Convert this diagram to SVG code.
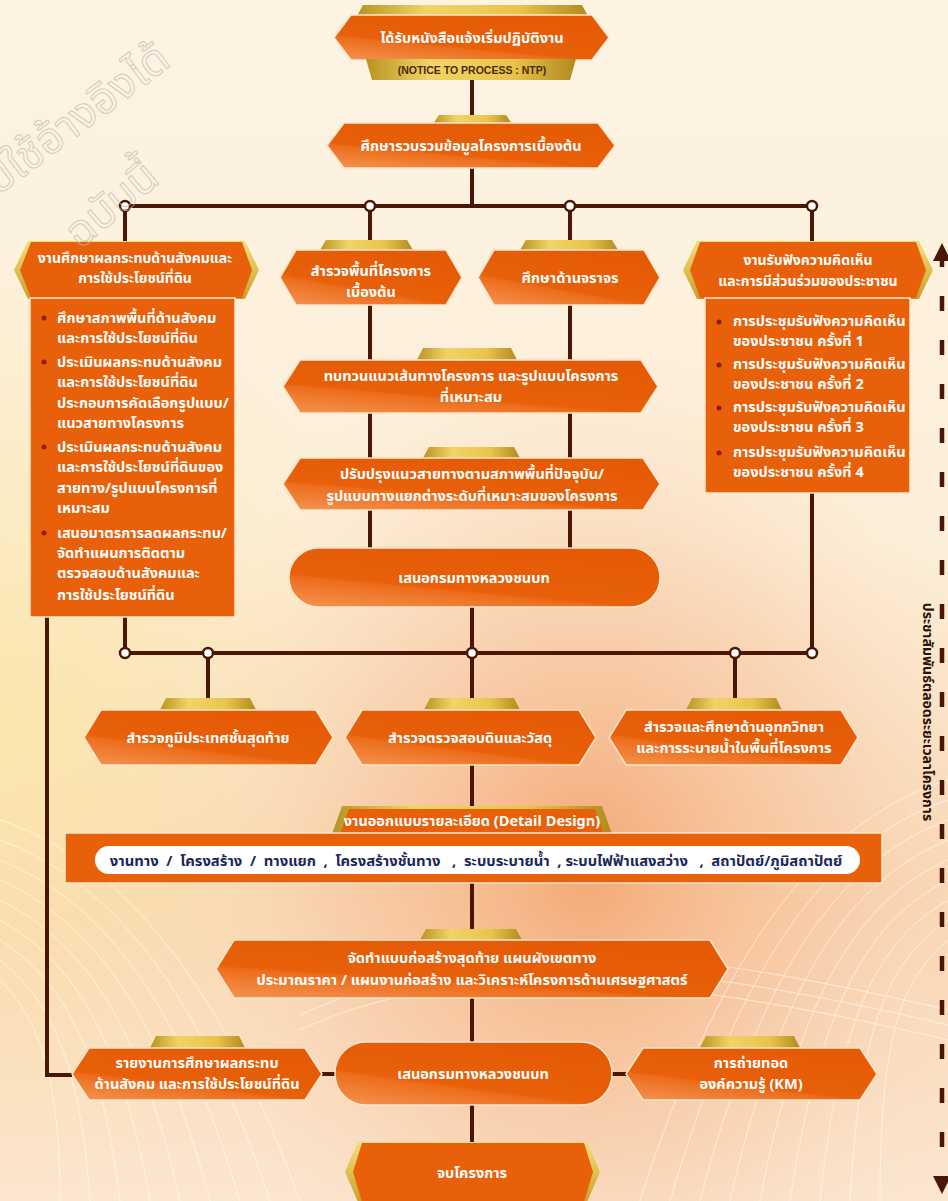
<svg xmlns="http://www.w3.org/2000/svg" width="948" height="1201" viewBox="0 0 948 1201">
<defs>
<linearGradient id="bg" x1="0" y1="0" x2="0" y2="1">
<stop offset="0" stop-color="#fdf3e3"/>
<stop offset="0.45" stop-color="#fcefd9"/>
<stop offset="0.75" stop-color="#f9d6b4"/>
<stop offset="1" stop-color="#fbe6d0"/>
</linearGradient>
<radialGradient id="glow" cx="0.62" cy="0.72" r="0.45">
<stop offset="0" stop-color="#f4a06a" stop-opacity="0.85"/>
<stop offset="0.6" stop-color="#f7c29a" stop-opacity="0.4"/>
<stop offset="1" stop-color="#fbe3c8" stop-opacity="0"/>
</radialGradient>
<radialGradient id="glowL" cx="0" cy="0.6" r="0.4">
<stop offset="0" stop-color="#fbe7a8" stop-opacity="0.8"/>
<stop offset="1" stop-color="#fbe7a8" stop-opacity="0"/>
</radialGradient>
<linearGradient id="og" x1="0" y1="1" x2="0.6" y2="0">
<stop offset="0" stop-color="#f39552"/>
<stop offset="0.38" stop-color="#ed6d1c"/>
<stop offset="0.42" stop-color="#e8600a"/>
<stop offset="1" stop-color="#e55a05"/>
</linearGradient>
<linearGradient id="gg" x1="0" y1="0" x2="1" y2="0">
<stop offset="0" stop-color="#b89322"/>
<stop offset="0.3" stop-color="#f1d466"/>
<stop offset="0.7" stop-color="#e9c44a"/>
<stop offset="1" stop-color="#b08a1e"/>
</linearGradient>
<linearGradient id="gv" x1="0" y1="0" x2="0" y2="1">
<stop offset="0" stop-color="#f4de7a"/>
<stop offset="1" stop-color="#c9a22b"/>
</linearGradient>
<marker id="ah" viewBox="0 0 10 10" refX="5" refY="5" markerWidth="4" markerHeight="4" orient="auto-start-reverse">
<path d="M0,0 L10,5 L0,10 Z" fill="#4a1608"/>
</marker>
</defs>
<style>
.hex{fill:url(#og);stroke:#fde6cc;stroke-width:1.5}
.box{fill:#e8600a;stroke:#fde6cc;stroke-width:1.5}
.gold{fill:url(#gg)}
.t{font-family:"Noto Sans Thai","Noto Sans","DejaVu Sans",sans-serif;font-weight:bold;fill:#fff;font-size:14.5px;text-anchor:middle}
.h{font-size:14px}
.b{font-family:"Noto Sans Thai","Noto Sans","DejaVu Sans",sans-serif;font-weight:bold;fill:#fff;font-size:14.5px}
.ln{stroke:#4a1608;stroke-width:4;fill:none}
.dot{fill:#fff;stroke:#4a1608;stroke-width:2.5}
.bul{fill:#8c1c0c}
.wm{font-family:"Noto Sans Thai","Noto Sans",sans-serif;font-size:44px;fill:none;stroke:#c4bab0;stroke-width:1;opacity:0.7}
.wl{stroke:#fff;stroke-width:1;fill:none;opacity:0.55}
</style>

<rect width="948" height="1201" fill="url(#bg)"/>
<rect width="948" height="1201" fill="url(#glow)"/>
<rect width="948" height="1201" fill="url(#glowL)"/>
<g id="waves">
<path class="wl" d="M0,820 C120,860 220,980 300,1201"/>
<path class="wl" d="M0,840 C110,880 200,990 270,1201"/>
<path class="wl" d="M0,860 C100,900 180,1000 240,1201"/>
<path class="wl" d="M0,880 C90,920 160,1010 210,1201"/>
<path class="wl" d="M0,900 C80,940 140,1020 180,1201"/>
<path class="wl" d="M0,920 C70,960 120,1030 150,1201"/>
<path class="wl" d="M0,940 C60,980 100,1040 120,1201"/>
<path class="wl" d="M0,960 C50,1000 80,1060 90,1201"/>
<path class="wl" d="M0,980 C40,1020 60,1080 60,1201"/>
<path class="wl" d="M948,780 C820,820 720,950 640,1201"/>
<path class="wl" d="M948,800 C830,840 740,960 670,1201"/>
<path class="wl" d="M948,820 C840,860 760,970 700,1201"/>
<path class="wl" d="M948,840 C850,880 780,980 730,1201"/>
<path class="wl" d="M948,860 C860,900 800,990 760,1201"/>
<path class="wl" d="M948,880 C870,920 820,1000 790,1201"/>
<path class="wl" d="M948,900 C880,940 840,1010 820,1201"/>
<path class="wl" d="M948,920 C890,960 860,1020 850,1201"/>
<path class="wl" d="M948,940 C900,980 880,1040 880,1201"/>
<path class="wl" d="M300,1000 C450,930 650,940 948,1010"/>
<path class="wl" d="M300,1015 C450,945 650,955 948,1025"/>
<path class="wl" d="M300,1030 C450,960 650,970 948,1040"/>
</g>

<g id="connectors">
<path class="ln" d="M472,80 V123"/>
<path class="ln" d="M472,168 V206"/>
<path class="ln" d="M125,206 H812"/>
<path class="ln" d="M125,206 V242"/>
<path class="ln" d="M370,206 V250 M370,305 V360 M370,413 V458 M370,510 V548"/>
<path class="ln" d="M570,206 V250 M570,305 V360 M570,413 V458 M570,510 V548"/>
<path class="ln" d="M812,206 V242 M812,493 V653"/>
<path class="ln" d="M125,617 V653"/>
<path class="ln" d="M472,607 V653"/>
<path class="ln" d="M125,653 H812"/>
<path class="ln" d="M208,653 V710 M472,653 V710 M735,653 V710"/>
<path class="ln" d="M472,765 V807 M472,883 V940 M472,998 V1042 M472,1105 V1143"/>
<path class="ln" d="M47,617 V1075 H72"/>
<path class="ln" d="M322,1074 H336 M611,1074 H627"/>
<circle class="dot" cx="125" cy="206" r="5"/>
<circle class="dot" cx="370" cy="206" r="5"/>
<circle class="dot" cx="570" cy="206" r="5"/>
<circle class="dot" cx="812" cy="206" r="5"/>
<circle class="dot" cx="125" cy="653" r="5"/>
<circle class="dot" cx="208" cy="653" r="5"/>
<circle class="dot" cx="472" cy="653" r="5"/>
<circle class="dot" cx="735" cy="653" r="5"/>
<circle class="dot" cx="812" cy="653" r="5"/>
<path d="M942,252 V1185" stroke="#4a1608" stroke-width="4.5" stroke-dasharray="15 29" marker-start="url(#ah)" marker-end="url(#ah)"/>
</g>

<g id="n-ntp">
<path class="gold" d="M357,16 L363,5 L582,5 L588,16 Z"/>
<path class="hex" d="M334,37.5 L351,15 L592,15 L609,37.5 L592,60 L351,60 Z"/>
<text class="t" x="472" y="43" font-size="16">ได้รับหนังสือแจ้งเริ่มปฏิบัติงาน</text>
<path d="M366,59 L576,59 L570,80 L372,80 Z" fill="url(#gg)"/>
<text x="472" y="74" text-anchor="middle" font-family="Liberation Sans, Arial, sans-serif" font-weight="bold" font-size="10.5" fill="#4a2a08">(NOTICE TO PROCESS : NTP)</text>
</g>

<g id="n-collect">
<path class="gold" d="M433,124 L439,115 L506,115 L512,124 Z"/>
<path class="hex" d="M327,145.5 L344,123 L598,123 L615,145.5 L598,168 L344,168 Z"/>
<text class="t" x="471" y="151" font-size="16">ศึกษารวบรวมข้อมูลโครงการเบื้องต้น</text>
</g>

<g id="n-social">
<path d="M14,270 L28,241 L245,241 L259,270 L245,299 L28,299 Z" fill="url(#gv)"/>
<path d="M20,270 L31,242 L242,242 L252,270 L242,298 L31,298 Z" fill="#e8600a"/>
<text class="t h" x="135" y="263">งานศึกษาผลกระทบด้านสังคมและ</text>
<text class="t h" x="135" y="283">การใช้ประโยชน์ที่ดิน</text>
<rect class="box" x="30" y="298" width="205" height="319"/>
<circle class="bul" cx="44" cy="318" r="2.5"/>
<circle class="bul" cx="44" cy="362" r="2.5"/>
<circle class="bul" cx="44" cy="447" r="2.5"/>
<circle class="bul" cx="44" cy="533" r="2.5"/>
<text class="b" x="57" y="323">ศึกษาสภาพพื้นที่ด้านสังคม</text>
<text class="b" x="57" y="343">และการใช้ประโยชน์ที่ดิน</text>
<text class="b" x="57" y="367">ประเมินผลกระทบด้านสังคม</text>
<text class="b" x="57" y="387">และการใช้ประโยชน์ที่ดิน</text>
<text class="b" x="57" y="408">ประกอบการคัดเลือกรูปแบบ/</text>
<text class="b" x="57" y="428">แนวสายทางโครงการ</text>
<text class="b" x="57" y="452">ประเมินผลกระทบด้านสังคม</text>
<text class="b" x="57" y="472">และการใช้ประโยชน์ที่ดินของ</text>
<text class="b" x="57" y="493">สายทาง/รูปแบบโครงการที่</text>
<text class="b" x="57" y="513">เหมาะสม</text>
<text class="b" x="57" y="538">เสนอมาตรการลดผลกระทบ/</text>
<text class="b" x="57" y="558">จัดทำแผนการติดตาม</text>
<text class="b" x="57" y="578">ตรวจสอบด้านสังคมและ</text>
<text class="b" x="57" y="600">การใช้ประโยชน์ที่ดิน</text>
</g>

<g id="n-survey">
<path class="gold" d="M320,250 L326,240 L407,240 L413,250 Z"/>
<path class="hex" d="M280,277.5 L296,250 L446,250 L462,277.5 L446,305 L296,305 Z"/>
<text class="t" x="371" y="276">สำรวจพื้นที่โครงการ</text>
<text class="t" x="371" y="297">เบื้องต้น</text>
</g>

<g id="n-traffic">
<path class="gold" d="M520,250 L526,240 L612,240 L618,250 Z"/>
<path class="hex" d="M478,277.5 L494,250 L644,250 L660,277.5 L644,305 L494,305 Z"/>
<text class="t" x="570" y="283">ศึกษาด้านจราจร</text>
</g>

<g id="n-review">
<path class="gold" d="M417,360 L423,348 L511,348 L517,360 Z"/>
<path class="hex" d="M283,386.5 L300,360 L641,360 L658,386.5 L641,413 L300,413 Z"/>
<text class="t" x="471" y="381">ทบทวนแนวเส้นทางโครงการ และรูปแบบโครงการ</text>
<text class="t" x="471" y="402">ที่เหมาะสม</text>
</g>

<g id="n-improve">
<path class="gold" d="M423,458 L429,447 L514,447 L520,458 Z"/>
<path class="hex" d="M283,484 L300,458 L643,458 L660,484 L643,510 L300,510 Z"/>
<text class="t" x="472" y="479">ปรับปรุงแนวสายทางตามสภาพพื้นที่ปัจจุบัน/</text>
<text class="t" x="472" y="501">รูปแบบทางแยกต่างระดับที่เหมาะสมของโครงการ</text>
</g>

<g id="n-propose1">
<rect class="hex" x="289" y="548" width="371" height="59" rx="29.5" stroke-width="2.5" stroke="#fff"/>
<text class="t" x="474" y="583">เสนอกรมทางหลวงชนบท</text>
</g>

<g id="n-public">
<path d="M683,270 L697,241 L919,241 L933,270 L919,299 L697,299 Z" fill="url(#gv)"/>
<path d="M690,270 L700,242 L916,242 L926,270 L916,298 L700,298 Z" fill="#e8600a"/>
<text class="t h" x="808" y="265">งานรับฟังความคิดเห็น</text>
<text class="t h" x="808" y="286">และการมีส่วนร่วมของประชาชน</text>
<rect class="box" x="705" y="298" width="205" height="195"/>
<circle class="bul" cx="719" cy="322" r="2.5"/>
<circle class="bul" cx="719" cy="365" r="2.5"/>
<circle class="bul" cx="719" cy="408" r="2.5"/>
<circle class="bul" cx="719" cy="453" r="2.5"/>
<text class="b" x="733" y="326">การประชุมรับฟังความคิดเห็น</text>
<text class="b" x="733" y="346">ของประชาชน ครั้งที่ 1</text>
<text class="b" x="733" y="369">การประชุมรับฟังความคิดเห็น</text>
<text class="b" x="733" y="389">ของประชาชน ครั้งที่ 2</text>
<text class="b" x="733" y="412">การประชุมรับฟังความคิดเห็น</text>
<text class="b" x="733" y="432">ของประชาชน ครั้งที่ 3</text>
<text class="b" x="733" y="457">การประชุมรับฟังความคิดเห็น</text>
<text class="b" x="733" y="477">ของประชาชน ครั้งที่ 4</text>
</g>

<g id="n-topo">
<path class="gold" d="M160,710 L166,698 L250,698 L256,710 Z"/>
<path class="hex" d="M84,737.5 L101,710 L316,710 L333,737.5 L316,765 L101,765 Z"/>
<text class="t" x="208" y="743">สำรวจภูมิประเทศชั้นสุดท้าย</text>
</g>

<g id="n-soil">
<path class="gold" d="M424,710 L430,698 L514,698 L520,710 Z"/>
<path class="hex" d="M345,737.5 L362,710 L579,710 L596,737.5 L579,765 L362,765 Z"/>
<text class="t" x="470" y="743">สำรวจตรวจสอบดินและวัสดุ</text>
</g>

<g id="n-hydro">
<path class="gold" d="M686,710 L692,698 L776,698 L782,710 Z"/>
<path class="hex" d="M609,737.5 L626,710 L841,710 L858,737.5 L841,765 L626,765 Z"/>
<text class="t" x="734" y="732">สำรวจและศึกษาด้านอุทกวิทยา</text>
<text class="t" x="734" y="753">และการระบายน้ำในพื้นที่โครงการ</text>
</g>

<g id="n-detail">
<path d="M332,834 L342,806 L602,806 L612,834 Z" fill="url(#gg)"/>
<path d="M340,834 L349,809 L595,809 L604,834 Z" fill="#e8600a"/>
<text class="t" x="472" y="826" font-size="13">งานออกแบบรายละเอียด (Detail Design)</text>
<rect class="box" x="65" y="833" width="817" height="50"/>
<rect x="95" y="846" width="765" height="28" rx="14" fill="#fff"/>
<text x="476" y="866" text-anchor="middle" font-family="Noto Sans Thai, Noto Sans, sans-serif" font-weight="bold" font-size="14.8" fill="#1c2758" style="white-space:pre">งานทาง  /  โครงสร้าง  /  ทางแยก  ,  โครงสร้างชั้นทาง   ,  ระบบระบายน้ำ  , ระบบไฟฟ้าแสงสว่าง   ,  สถาปัตย์/ภูมิสถาปัตย์</text>
</g>

<g id="n-final-design">
<path class="gold" d="M420,940 L426,929 L516,929 L522,940 Z"/>
<path class="hex" d="M216,969 L234,940 L710,940 L728,969 L710,998 L234,998 Z"/>
<text class="t" x="472" y="963">จัดทำแบบก่อสร้างสุดท้าย แผนผังเขตทาง</text>
<text class="t" x="472" y="985">ประมาณราคา / แผนงานก่อสร้าง และวิเคราะห์โครงการด้านเศรษฐศาสตร์</text>
</g>

<g id="n-report">
<path class="gold" d="M150,1048 L156,1036 L239,1036 L245,1048 Z"/>
<path class="hex" d="M72,1074 L89,1048 L305,1048 L322,1074 L305,1100 L89,1100 Z"/>
<text class="t" x="197" y="1068">รายงานการศึกษาผลกระทบ</text>
<text class="t" x="197" y="1089">ด้านสังคม และการใช้ประโยชน์ที่ดิน</text>
</g>

<g id="n-propose2">
<rect class="hex" x="335" y="1042" width="277" height="63" rx="31" stroke-width="2.5" stroke="#fff"/>
<text class="t" x="473" y="1079">เสนอกรมทางหลวงชนบท</text>
</g>

<g id="n-km">
<path class="gold" d="M700,1048 L706,1036 L794,1036 L800,1048 Z"/>
<path class="hex" d="M626,1074 L643,1048 L860,1048 L877,1074 L860,1100 L643,1100 Z"/>
<text class="t" x="751" y="1068">การถ่ายทอด</text>
<text class="t" x="751" y="1089">องค์ความรู้ (KM)</text>
</g>

<g id="n-end">
<path d="M345,1172 L358,1142 L587,1142 L600,1172 L587,1202 L358,1202 Z" fill="url(#gv)"/>
<path d="M353,1172 L362,1143 L584,1143 L593,1172 L584,1202 L362,1202 Z" fill="#e8600a"/>
<text class="t" x="472" y="1178">จบโครงการ</text>
</g>

<g id="side-label">
<text transform="translate(923,712) rotate(90)" text-anchor="middle" font-family="Noto Sans Thai, Noto Sans, sans-serif" font-weight="bold" font-size="14" fill="#2a140a">ประชาสัมพันธ์ตลอดระยะเวลาโครงการ</text>
</g>

<g id="watermark">
<text class="wm" transform="translate(-2,196) rotate(-37)">ปใช้อ้างอิงได้</text>
<text class="wm" transform="translate(80,250) rotate(-40)">ฉบับนี้</text>
</g>
</svg>
